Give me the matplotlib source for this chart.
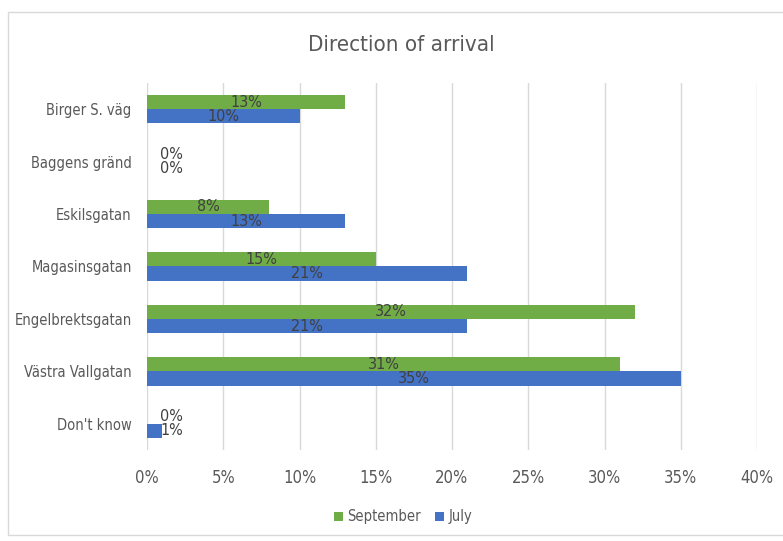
import matplotlib.pyplot as plt
import numpy as np
from matplotlib.patches import Rectangle

plt.rcParams['font.family'] = ['DejaVu Sans']
plt.rcParams['font.stretch'] = 'condensed'

# datos
categorias = ["Birger S. väg", "Baggens gränd", "Eskilsgatan", "Magasinsgatan",
              "Engelbrektsgatan", "Västra Vallgatan", "Don't know"]
septiembre = [13, 0, 8, 15, 32, 31, 0]
julio = [10, 0, 13, 21, 21, 35, 1]
ticks_x = [0, 5, 10, 15, 20, 25, 30, 35, 40]

verde = '#70AD47'
azul = '#4472C4'
gris = '#595959'

fig = plt.figure(figsize=(7.83, 5.41), dpi=100)
# marco exterior del grafico
fig.patches.append(Rectangle((8 / 783, 6 / 541), 1, 523 / 541, transform=fig.transFigure,
                             fill=False, edgecolor='#d9d9d9', linewidth=1))

ax = fig.add_axes([147 / 783, 1 - 450 / 541, 610 / 783, 367 / 541])

y = np.arange(len(categorias))
h = 0.27
ax.barh(y - h / 2, septiembre, height=h, color=verde, label='September', zorder=3)
ax.barh(y + h / 2, julio, height=h, color=azul, label='July', zorder=3)

# etiquetas de cada barra
for i in range(len(categorias)):
    ax.text(max(septiembre[i] / 2, 1.6), y[i] - h / 2, f'{septiembre[i]}%', ha='center', va='center',
            fontsize=11.5, color='#404040', zorder=4)
    ax.text(max(julio[i] / 2, 1.6), y[i] + h / 2, f'{julio[i]}%', ha='center', va='center',
            fontsize=11.5, color='#404040', zorder=4)

ax.set_ylim(len(categorias) - 0.5, -0.5)
ax.set_xlim(0, 40)
ax.set_yticks(y)
ax.set_yticklabels(categorias, fontsize=10.5, color=gris)
ax.set_xticks(ticks_x)
ax.set_xticklabels([f'{t}%' for t in ticks_x], fontsize=12, color=gris)
ax.tick_params(length=0)
ax.tick_params(axis='y', pad=11)
ax.tick_params(axis='x', pad=14)
ax.grid(axis='x', color='#d9d9d9', linewidth=1, zorder=0)
for s in ax.spines.values():
    s.set_visible(False)

fig.text(401 / 783, 1 - 45 / 541, 'Direction of arrival', ha='center', va='center', fontsize=16, color=gris)

leg = fig.legend(loc='center', bbox_to_anchor=(403 / 783, 1 - 517 / 541), ncol=2, frameon=False,
                 fontsize=10.5, handlelength=0.6, handleheight=0.6, columnspacing=1.0, handletextpad=0.3)
for t in leg.get_texts():
    t.set_color(gris)

fig.savefig('out.png', dpi=100)
